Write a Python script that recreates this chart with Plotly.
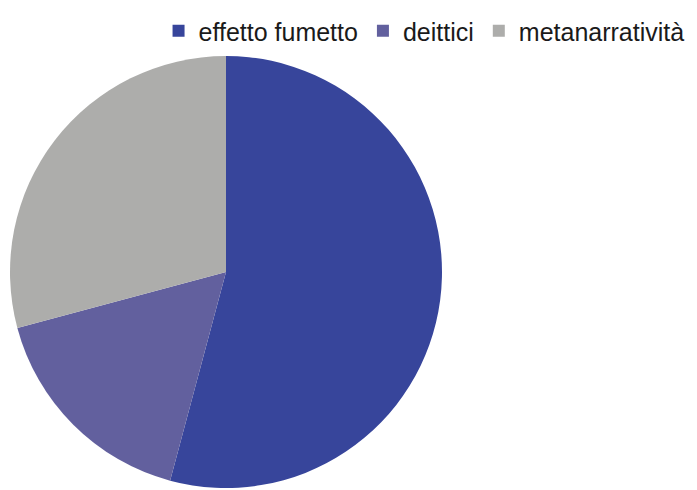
import plotly.graph_objects as go

categories = ["effetto fumetto", "deittici", "metanarratività"]
values = [13, 4, 7]
colors = ["#37459b", "#62609e", "#adadab"]

W, H = 697, 490
cx, cy, r = 218, 264, 216

fig = go.Figure(go.Pie(
    labels=categories,
    values=values,
    sort=False,
    direction="clockwise",
    rotation=0,
    marker=dict(colors=colors, line=dict(width=0)),
    textinfo="none",
    hoverinfo="label+value+percent",
    domain=dict(x=[(cx - r) / W, (cx + r) / W], y=[1 - (cy + r) / H, 1 - (cy - r) / H]),
))

fig.update_layout(
    width=W, height=H,
    margin=dict(l=0, r=0, t=0, b=0),
    paper_bgcolor="white",
    plot_bgcolor="white",
    showlegend=True,
    legend=dict(
        orientation="h",
        x=0.216, xanchor="left",
        y=1.0, yanchor="top",
        font=dict(family="Liberation Sans, Arial", size=25, color="#1a1a1a"),
        itemwidth=30,
        tracegroupgap=0,
        bgcolor="rgba(0,0,0,0)",
    ),
)

fig.write_html("out.html")
